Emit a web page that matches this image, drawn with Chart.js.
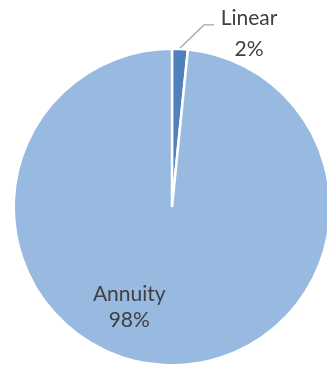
<!DOCTYPE html>
<html>
<head>
<meta charset="utf-8">
<script src="https://cdn.jsdelivr.net/npm/chart.js@4"></script>
<style>
  html, body { margin: 0; padding: 0; background: #fff; overflow: hidden; }
  #wrap { position: relative; width: 345px; height: 367px; }
</style>
</head>
<body>
<div id="wrap"><canvas id="myChart" width="345" height="367"></canvas></div>
<script>
const categorias = ['Linear', 'Annuity']
const valores = [1.6, 98.4]
const colores = ['#4F81BD', '#98B9E0']

const total = valores.reduce((a, b) => a + b, 0)
const porcentajes = valores.map(v => Math.round(v / total * 100) + '%')

// etiquetas tipo excel, dibujadas a partir de los arcos
const etiquetas = {
    id: 'etiquetas',
    afterDatasetsDraw(chart) {
        const ctx = chart.ctx
        const arcs = chart.getDatasetMeta(0).data
        ctx.save()
        ctx.font = '21px Lato'
        ctx.fillStyle = '#404040'
        ctx.textAlign = 'center'
        ctx.textBaseline = 'alphabetic'

        // Linear: fuera, con linea guia
        const a = arcs[0].getProps(['x', 'y', 'startAngle', 'endAngle', 'outerRadius'], true)
        const mid = (a.startAngle + a.endAngle) / 2
        const x0 = a.x + (a.outerRadius + 1) * Math.cos(mid)
        const y0 = a.y + (a.outerRadius + 1) * Math.sin(mid)
        const xe = x0 + 24, ye = y0 - 23
        ctx.strokeStyle = '#A6A6A6'
        ctx.lineWidth = 1.3
        ctx.beginPath()
        ctx.moveTo(x0, y0)
        ctx.lineTo(xe, ye)
        ctx.lineTo(xe + 10, ye)
        ctx.stroke()
        ctx.fillText(categorias[0], xe + 45, ye)
        ctx.fillText(porcentajes[0], xe + 45, ye + 31)

        // Annuity: dentro
        const b = arcs[1].getProps(['x', 'y', 'outerRadius'], true)
        const tx = b.x - 0.27 * b.outerRadius
        ctx.fillText(categorias[1], tx, b.y + 0.595 * b.outerRadius)
        ctx.fillText(porcentajes[1], tx, b.y + 0.76 * b.outerRadius)
        ctx.restore()
    }
}

const ctx = document.getElementById('myChart').getContext('2d')
const myChart = new Chart(ctx, {
    type: 'pie',
    data: {
        labels: categorias,
        datasets: [{
            data: valores,
            backgroundColor: colores,
            borderColor: '#ffffff',
            borderWidth: 2.5,
            hoverOffset: 0,
            offset: 0
        }]
    },
    options: {
        responsive: false,
        animation: false,
        layout: { padding: { left: 12.5, top: 47.5, right: 13.5, bottom: 0.5 } },
        plugins: {
            legend: { display: false },
            tooltip: { enabled: false }
        }
    },
    plugins: [etiquetas]
})
</script>
</body>
</html>
